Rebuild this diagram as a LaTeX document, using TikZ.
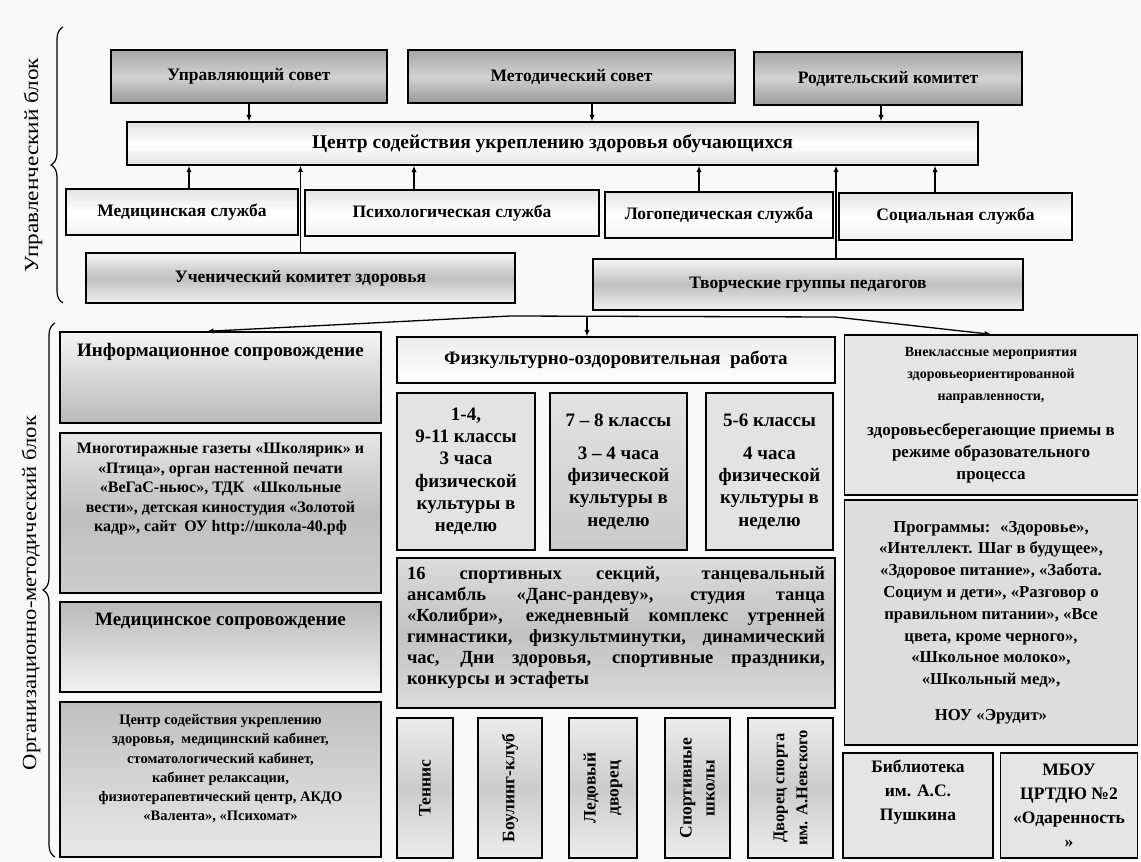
\documentclass[tikz,border=0pt]{standalone}
\usepackage{fontspec}
\setmainfont{Liberation Serif}
\usetikzlibrary{arrows.meta,decorations.pathreplacing,shadings}
\tikzset{
  bx/.style={draw=black, line width=1.4pt, rectangle, inner sep=2pt, align=center,
    font=\bfseries\fontsize{17.5}{21}\selectfont},
  tx/.style={align=center, inner sep=0pt, font=\bfseries\fontsize{19}{22}\selectfont},
  ptx/.style={align=center, inner sep=0pt, font=\bfseries\fontsize{16}{19.5}\selectfont},
  darkg/.style={top color=gray!70, bottom color=gray!80, middle color=gray!35},
  barg/.style={top color=gray!25, bottom color=gray!22, middle color=white},
  servg/.style={top color=gray!22, bottom color=gray!10, middle color=white},
  bandg/.style={top color=gray!8, bottom color=gray!12, middle color=gray!50},
  downg/.style={top color=gray!8, bottom color=gray!55},
  upg/.style={top color=gray!55, bottom color=gray!10},
  midg/.style={top color=gray!20, bottom color=gray!40, middle color=gray!50},
  flatg/.style={fill=gray!22},
  vbox/.style={bx, rotate=90, top color=gray!15, bottom color=gray!15, middle color=gray!40,
    font=\bfseries\fontsize{17.5}{23}\selectfont},
  arr/.style={-{Latex[length=6.5pt,width=5.5pt]}, line width=1.3pt},
  brc/.style={line width=1.2pt, decorate, decoration={brace, amplitude=12pt}},
  blbl/.style={rotate=90, inner sep=0pt, font=\fontsize{20}{22}\selectfont}
}
\begin{document}
\begin{tikzpicture}[x=1pt,y=-1pt]
\useasboundingbox (0,0) rectangle (1141,862);
\fill[gray!5] (0,0) rectangle (1141,862);

% ---------- braces and block labels
\coordinate (b1a) at (63,303);
\coordinate (b1b) at (63,27);
\draw[brc] (b1a) -- (b1b);
\node[blbl] (lbl1) at (33,165) {\scalebox{1.16}[1]{Управленческий блок}};
\coordinate (b2a) at (55,857);
\coordinate (b2b) at (55,323);
\draw[brc] (b2a) -- (b2b);
\node[blbl] (lbl2) at (31,593) {\scalebox{1.13}[1]{Организационно-методический блок}};

% ---------- upper block
\node[bx, darkg, minimum width=276, minimum height=53] (us) at (249,76.5) {Управляющий совет};
\node[bx, darkg, minimum width=327, minimum height=53] (ms) at (571.5,76.5) {Методический совет};
\node[bx, darkg, minimum width=268, minimum height=53] (rk) at (888,78.5) {Родительский комитет};
\node[bx, barg, minimum width=851, minimum height=43, font=\bfseries\fontsize{19.5}{22}\selectfont] (csu) at (552.5,143.5) {Центр содействия укреплению здоровья обучающихся};
\node[bx, servg, minimum width=232, minimum height=46] (med) at (182,212) {Медицинская служба};
\node[bx, servg, minimum width=294, minimum height=46] (psy) at (452,213) {Психологическая служба};
\node[bx, servg, minimum width=228, minimum height=46] (log) at (719,215) {Логопедическая служба};
\node[bx, servg, minimum width=233, minimum height=47] (soc) at (955.5,216.5) {Социальная служба};
\node[bx, bandg, minimum width=429, minimum height=50] (uk) at (300.5,278) {Ученический комитет здоровья};
\node[bx, bandg, minimum width=430, minimum height=51] (tg) at (808,284.5) {Творческие группы педагогов};

% arrows into the centre bar
\coordinate (a1) at (us.south);
\coordinate (a2) at ([xshift=20.5pt]ms.south);
\coordinate (a3) at ([xshift=-7pt]rk.south);
\draw[arr] (a1) -- (a1 |- csu.north);
\draw[arr] (a2) -- (a2 |- csu.north);
\draw[arr] (a3) -- (a3 |- csu.north);
\coordinate (s1) at ([xshift=7pt]med.north);
\coordinate (s2) at ([xshift=-38pt]psy.north);
\coordinate (s3) at ([xshift=-20pt]log.north);
\coordinate (s4) at ([xshift=-20.5pt]soc.north);
\coordinate (s5) at (uk.north);
\coordinate (s6) at ([xshift=28pt]tg.north);
\foreach \s in {s1,s2,s3,s4,s5,s6}{\draw[arr] (\s) -- (\s |- csu.south);}

% ---------- lower block: left column
\node[bx, downg, minimum width=321, minimum height=91] (inf) at (220.5,377.5) {};
\node[tx, anchor=north] (inft) at ([yshift=-12pt]inf.north) {Информационное сопровождение};
\node[bx, midg, minimum width=321, minimum height=160] (gaz) at (220.5,513) {};
\node[ptx, anchor=north] (gazt) at ([yshift=-11pt]gaz.north) {Многотиражные газеты «Школярик» и\\«Птица», орган настенной печати\\«ВеГаС-ньюс», ТДК \ «Школьные\\вести», детская киностудия «Золотой\\кадр», сайт \ ОУ http://школа-40.рф};
\node[bx, upg, minimum width=321, minimum height=90] (msop) at (220.5,647) {};
\node[tx, anchor=north] (msopt) at ([yshift=-12pt]msop.north) {Медицинское сопровождение};
\node[bx, top color=gray!50, bottom color=gray!18, minimum width=321, minimum height=155] (csl) at (220.5,779.5) {};
\node[ptx, anchor=north, font=\bfseries\fontsize{14.5}{19.3}\selectfont] (cslt) at ([yshift=-13pt]csl.north) {Центр содействия укреплению\\здоровья, \ медицинский кабинет,\\стоматологический кабинет,\\кабинет релаксации,\\физиотерапевтический центр, АКДО\\«Валента», «Психомат»};

% ---------- lower block: middle column
\node[bx, top color=gray!15, bottom color=white, minimum width=438, minimum height=46, font=\bfseries\fontsize{19}{22}\selectfont] (fiz) at (616,360) {Физкультурно-оздоровительная \ работа};
\node[bx, flatg, minimum width=138, minimum height=157, font=\bfseries\fontsize{19}{22.3}\selectfont] (c14) at (466,471.5) {1-4,\\9-11 классы\\3 часа\\физической\\культуры в\\неделю};
\node[bx, top color=gray!22, bottom color=gray!42, minimum width=137, minimum height=157, font=\bfseries\fontsize{19}{22.3}\selectfont] (c78) at (618.5,471.5) {7 -- 8 классы\\[11pt]3 -- 4 часа\\физической\\культуры в\\неделю};
\node[bx, flatg, minimum width=127, minimum height=157, font=\bfseries\fontsize{19}{22.3}\selectfont] (c56) at (769.5,471.5) {5-6 классы\\[11pt]4 часа\\физической\\культуры в\\неделю};
\node[bx, top color=gray!28, bottom color=gray!28, middle color=gray!48, minimum width=438, minimum height=150] (sp) at (616,633) {};
\node[anchor=north, align=left, inner sep=0pt, font=\bfseries\fontsize{18.5}{21}\selectfont] (spt) at ([yshift=-9pt]sp.north) {%
\makebox[418pt][s]{16 спортивных секций, танцевальный}\\
\makebox[418pt][s]{ансамбль «Данс-рандеву», студия танца}\\
\makebox[418pt][s]{«Колибри», ежедневный комплекс утренней}\\
\makebox[418pt][s]{гимнастики, физкультминутки, динамический}\\
\makebox[418pt][s]{час, Дни здоровья, спортивные праздники,}\\
\makebox[418pt][l]{конкурсы и эстафеты}};
\node[vbox, minimum width=140, minimum height=56] (ten) at (425,788) {Теннис};
\node[vbox, minimum width=140, minimum height=64] (bow) at (510,788) {Боулинг-клуб};
\node[vbox, minimum width=140, minimum height=68] (led) at (603,788) {Ледовый\\дворец};
\node[vbox, minimum width=140, minimum height=65] (ssh) at (697.5,788) {Спортивные\\школы};
\node[vbox, minimum width=140, minimum height=85, font=\bfseries\fontsize{16.5}{23}\selectfont] (dvs) at (790.5,788) {Дворец спорта\\им. А.Невского};

% ---------- lower block: right column
\node[bx, fill=gray!20, minimum width=293, minimum height=160, font=\bfseries\fontsize{17}{22}\selectfont] (vne) at (991,415) {{\fontsize{14}{22}\selectfont Внеклассные мероприятия}\\{\fontsize{14}{22}\selectfont здоровьеориентированной}\\{\fontsize{14}{22}\selectfont направленности,}\\[13pt]здоровьесберегающие приемы в\\режиме образовательного\\процесса};
\node[bx, fill=gray!27, minimum width=293, minimum height=245, font=\bfseries\fontsize{16.7}{21.8}\selectfont] (prog) at (991,622.5) {Программы: \ «Здоровье»,\\«Интеллект. Шаг в будущее»,\\«Здоровое питание», «Забота.\\Социум и дети», «Разговор о\\правильном питании», «Все\\цвета, кроме черного»,\\«Школьное молоко»,\\«Школьный мед»,\\[14pt]НОУ «Эрудит»};
\node[bx, fill=gray!20, minimum width=150, minimum height=105, font=\bfseries\fontsize{17.5}{24}\selectfont] (bib) at (918,805.5) {Библиотека\\им. А.С.\\Пушкина\\[6pt]};
\node[bx, fill=gray!20, minimum width=137, minimum height=105, font=\bfseries\fontsize{17.5}{24}\selectfont] (mbou) at (1069,805.5) {МБОУ\\ЦРТДЮ №2\\«Одаренность\\»};

% ---------- connectors into the lower block
\coordinate (jn) at (587,316);
\coordinate (jl) at (510,316);
\coordinate (jr) at (835,317);
\coordinate (infA) at ([xshift=-13.5pt]inf.north);
\draw[line width=1.3pt] (jl) -- (jr);
\draw[arr] (jl) -- (infA);
\draw[arr] (jr) -- (vne.north);
\draw[arr] (jn) -- (jn |- fiz.north);
\end{tikzpicture}
\end{document}
